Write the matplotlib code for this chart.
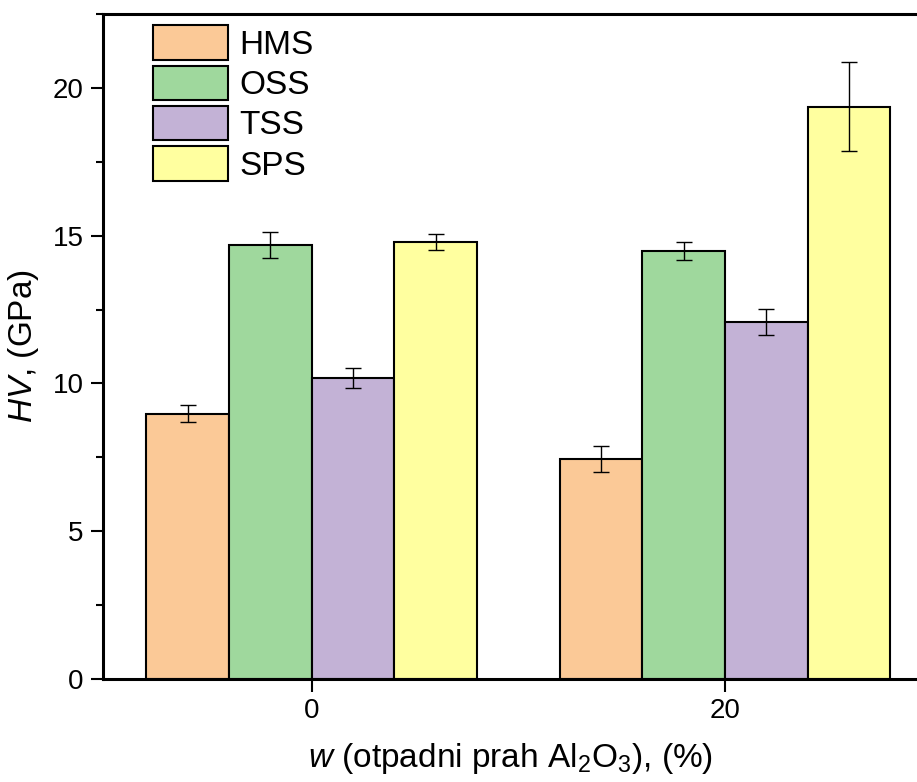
import matplotlib
matplotlib.use("Agg")
import matplotlib.pyplot as plt
import numpy as np
from matplotlib.ticker import MultipleLocator

plt.rcParams['font.family'] = ['Liberation Sans', 'DejaVu Sans']
plt.rcParams['mathtext.fontset'] = 'custom'
plt.rcParams['mathtext.rm'] = 'Liberation Sans'
plt.rcParams['mathtext.it'] = 'Liberation Sans:italic'
plt.rcParams['mathtext.bf'] = 'Liberation Sans:bold'

groups = [0, 20]
series = ["HMS", "OSS", "TSS", "SPS"]
hms = [8.97, 7.44]
oss = [14.69, 14.48]
tss = [10.19, 12.08]
sps = [14.79, 19.36]
hms_err = [0.29, 0.44]
oss_err = [0.45, 0.30]
tss_err = [0.34, 0.44]
sps_err = [0.27, 1.50]
colors = ["#FBC997", "#9FD89D", "#C3B2D6", "#FFFF9F"]

values = [hms, oss, tss, sps]
errors = [hms_err, oss_err, tss_err, sps_err]

fig = plt.figure(figsize=(9.17, 7.82), dpi=100)
ax = fig.add_axes([103/917, 1-679/782, 1-103/917, (679-14)/782])

width = 4.0
offsets = [-6, -2, 2, 6]
x = np.array(groups, dtype=float)
for name, v, e, c, off in zip(series, values, errors, colors, offsets):
    ax.bar(x + off, v, width=width, color=c, edgecolor="black", linewidth=1.5,
           label=name, zorder=2)
    ax.errorbar(x + off, v, yerr=e, fmt="none", ecolor="black", elinewidth=1.0,
                capsize=6, capthick=1.0, zorder=3)

ax.set_xlim(-10.1, 29.3)
ax.set_ylim(0, 22.5)
ax.set_xticks(groups)
ax.set_xticklabels([str(g) for g in groups])
ax.yaxis.set_major_locator(MultipleLocator(5))
ax.yaxis.set_minor_locator(MultipleLocator(2.5))

for s in ["left", "bottom", "top"]:
    ax.spines[s].set_linewidth(2.2)
ax.spines["right"].set_visible(False)

ax.tick_params(axis="both", which="major", direction="out", length=9, width=1.5,
               labelsize=20, pad=5)
ax.tick_params(axis="y", which="minor", direction="out", length=5, width=1.5)
ax.tick_params(axis="x", which="minor", bottom=False)

ax.set_ylabel(r"$\it{HV}$, (GPa)", fontsize=24, labelpad=8)
ax.set_xlabel(r"$\it{w}$ (otpadni prah Al$_2$O$_3$), (%)", fontsize=24, labelpad=12)

ax.legend(loc="upper left", bbox_to_anchor=(0.041, 1.008), frameon=False,
          fontsize=24, handlelength=2.25, handleheight=1.2, labelspacing=0.15,
          handletextpad=0.35, borderaxespad=0.1)

fig.savefig("out.png", dpi=100)
